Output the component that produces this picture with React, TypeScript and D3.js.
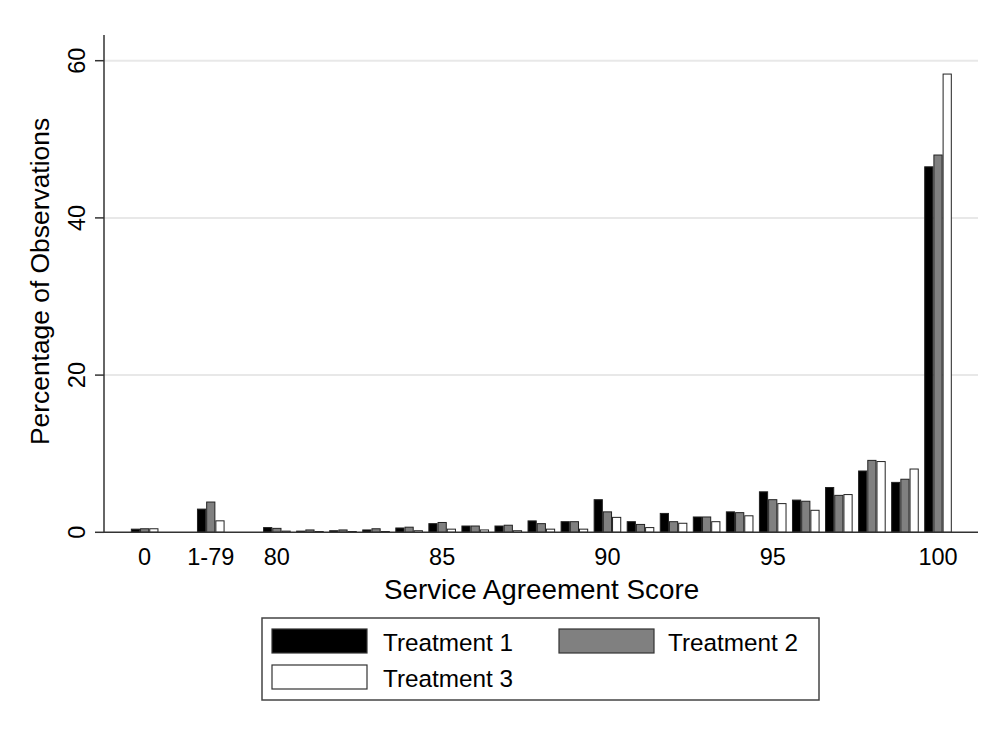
import React from "react";
import * as d3 from "d3";

const categories = ["0", "1-79", "80", "81", "82", "83", "84", "85", "86", "87", "88", "89", "90", "91", "92", "93", "94", "95", "96", "97", "98", "99", "100"];
const positions = [76, 78, 80, 81, 82, 83, 84, 85, 86, 87, 88, 89, 90, 91, 92, 93, 94, 95, 96, 97, 98, 99, 100];
const treatment1 = [0.4, 2.95, 0.6, 0.15, 0.2, 0.3, 0.55, 1.1, 0.8, 0.8, 1.45, 1.35, 4.15, 1.35, 2.4, 1.95, 2.6, 5.15, 4.1, 5.7, 7.8, 6.35, 46.5];
const treatment2 = [0.45, 3.85, 0.5, 0.3, 0.3, 0.45, 0.65, 1.25, 0.8, 0.9, 1.1, 1.35, 2.6, 1.0, 1.35, 1.95, 2.5, 4.15, 3.95, 4.7, 9.15, 6.75, 48.0];
const treatment3 = [0.45, 1.46, 0.15, 0.1, 0.1, 0.1, 0.2, 0.4, 0.3, 0.2, 0.4, 0.4, 1.9, 0.6, 1.15, 1.35, 2.1, 3.65, 2.8, 4.8, 9.0, 8.05, 58.3];
const seriesNames = ["Treatment 1", "Treatment 2", "Treatment 3"];
const seriesColors = ["#000000", "#808080", "#ffffff"];
const tickCategories = ["0", "1-79", "80", "85", "90", "95", "100"];
const yTicks = [0, 20, 40, 60];

const FONT = "'Liberation Sans', Arial, Helvetica, sans-serif";

export default function App() {
  const W = 995, H = 732;
  const left = 104, right = 978, top = 35, bottom = 532.3;
  const x = d3.scaleLinear().domain([74.77, 101.21]).range([left, right]);
  const y = d3.scaleLinear().domain([0, 60]).range([bottom, 60.7]);
  const series = [treatment1, treatment2, treatment3];
  const bw = 9.2;
  const axisColor = "#333333";

  return (
    <svg width={W} height={H} style={{ position: "absolute", left: 0, top: 0, background: "#fff" }} fontFamily={FONT}>
      <rect x={0} y={0} width={W} height={H} fill="#ffffff" />
      {yTicks.filter((t) => t > 0).map((t) => (
        <line key={"g" + t} x1={left} x2={right} y1={y(t)} y2={y(t)} stroke="#e8e8e8" strokeWidth={2} />
      ))}
      {categories.map((c, i) =>
        series.map((s, j) => {
          const cx = x(positions[i]);
          const x0 = cx - 1.5 * bw + j * bw;
          return (
            <rect
              key={c + "-" + j}
              x={x0 + 0.5}
              y={y(s[i])}
              width={bw - 1}
              height={Math.max(0, y(0) - y(s[i]))}
              fill={seriesColors[j]}
              stroke="#222"
              strokeWidth={1}
            />
          );
        })
      )}
      <line x1={left} x2={left} y1={top} y2={bottom} stroke={axisColor} strokeWidth={1.5} />
      <line x1={left} x2={right} y1={bottom} y2={bottom} stroke={axisColor} strokeWidth={1.5} />
      {yTicks.map((t) => (
        <g key={"t" + t}>
          <line x1={left - 9} x2={left} y1={y(t)} y2={y(t)} stroke={axisColor} strokeWidth={1.5} />
          <text transform={`translate(85,${y(t)}) rotate(-90)`} textAnchor="middle" fontSize={23.5} fill="#000">
            {t}
          </text>
        </g>
      ))}
      {tickCategories.map((c) => {
        const i = categories.indexOf(c);
        return (
          <text key={"x" + c} x={x(positions[i])} y={565} textAnchor="middle" fontSize={23.5} fill="#000">
            {c}
          </text>
        );
      })}
      <text x={541.5} y={599} textAnchor="middle" fontSize={27.8} fill="#000">
        Service Agreement Score
      </text>
      <text transform={`translate(49,${(120 + 443) / 2}) rotate(-90)`} textAnchor="middle" fontSize={26.4} fill="#000">
        Percentage of Observations
      </text>
      <rect x={262} y={618} width={557} height={82} fill="#fff" stroke="#444" strokeWidth={1.5} />
      {[
        { sx: 272, sy: 629, tx: 383, ty: 651, j: 0 },
        { sx: 559, sy: 629, tx: 668, ty: 651, j: 1 },
        { sx: 272, sy: 665, tx: 383, ty: 687, j: 2 },
      ].map((it) => (
        <g key={"l" + it.j}>
          <rect x={it.sx} y={it.sy} width={95} height={24} fill={seriesColors[it.j]} stroke="#333" strokeWidth={1.2} />
          <text x={it.tx} y={it.ty} fontSize={24.3} fill="#000">
            {seriesNames[it.j]}
          </text>
        </g>
      ))}
    </svg>
  );
}
